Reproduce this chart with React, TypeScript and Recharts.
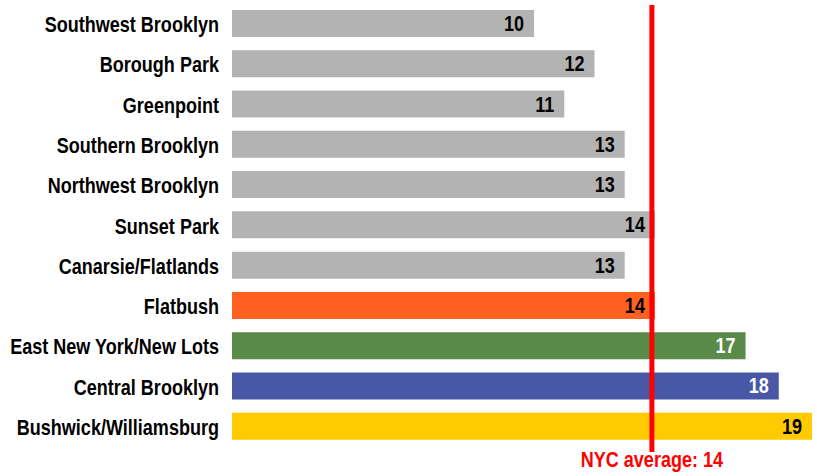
import React from 'react';
import { BarChart, Bar, XAxis, YAxis, Cell, LabelList, ReferenceLine } from 'recharts';

const neighborhoods = [
  'Southwest Brooklyn',
  'Borough Park',
  'Greenpoint',
  'Southern Brooklyn',
  'Northwest Brooklyn',
  'Sunset Park',
  'Canarsie/Flatlands',
  'Flatbush',
  'East New York/New Lots',
  'Central Brooklyn',
  'Bushwick/Williamsburg',
];
const rates = [10, 12, 11, 13, 13, 14, 13, 14, 17, 18.1, 19.2];
const barColors = [
  '#b3b3b3', '#b3b3b3', '#b3b3b3', '#b3b3b3', '#b3b3b3', '#b3b3b3', '#b3b3b3',
  '#ff6121', '#5a8a48', '#4857a6', '#ffcb00',
];
const labelColors = [
  '#000', '#000', '#000', '#000', '#000', '#000', '#000',
  '#000', '#fff', '#fff', '#000',
];
const nycAverage = 13.9;
const nycLabel = 'NYC average: 14';

const FONT = "'Liberation Sans', Arial, sans-serif";

const data = neighborhoods.map((name, i) => ({ name, rate: rates[i], idx: i }));

// condensed bold text: squeeze horizontally around the anchor point
const CondText = ({ x, y, anchor, fill, children }: any) => (
  <g transform={`translate(${x} ${y}) scale(0.82 1)`}>
    <text x={0} y={0} textAnchor={anchor} fill={fill} fontSize={22} fontWeight="bold" fontFamily={FONT}>
      {children}
    </text>
  </g>
);

const NameTick = (props: any) => {
  const { y, payload } = props;
  return (
    <CondText x={219} y={y + 9} anchor="end" fill="#000">
      {payload.value}
    </CondText>
  );
};

const ValueLabel = (props: any) => {
  const { x, y, width, height, value, index } = props;
  return (
    <CondText x={x + width - 10} y={y + height / 2 + 7.5} anchor="end" fill={labelColors[index]}>
      {Math.round(value)}
    </CondText>
  );
};

const AvgLabel = (props: any) => {
  const { viewBox } = props;
  return (
    <CondText x={viewBox.x} y={467} anchor="middle" fill="#ff0000">
      {nycLabel}
    </CondText>
  );
};

const AvgLine = (props: any) => {
  const { x1, y1, x2, y2 } = props;
  return <line x1={x1} y1={y1 + 6} x2={x2} y2={y2 + 2} stroke="#ff0000" strokeWidth={5} />;
};

export default function App() {
  return (
    <div style={{ position: 'absolute', left: 0, top: 0, width: 817, height: 476, background: '#fff' }}>
      <BarChart
        width={817}
        height={476}
        data={data}
        layout="vertical"
        margin={{ top: 3, right: 5, bottom: 30, left: 0 }}
        barCategoryGap={13}
      >
        <XAxis type="number" domain={[0, 19.2]} hide />
        <YAxis
          type="category"
          dataKey="name"
          width={232}
          axisLine={false}
          tickLine={false}
          tick={<NameTick />}
          interval={0}
        />
        <ReferenceLine
          x={nycAverage}
          stroke="#ff0000"
          strokeWidth={5}
          shape={AvgLine}
          label={<AvgLabel />}
        />
        <Bar dataKey="rate" barSize={27} isAnimationActive={false}>
          {data.map((d) => (
            <Cell key={d.name} fill={barColors[d.idx]} />
          ))}
          <LabelList dataKey="rate" content={<ValueLabel />} />
        </Bar>
      </BarChart>
    </div>
  );
}
